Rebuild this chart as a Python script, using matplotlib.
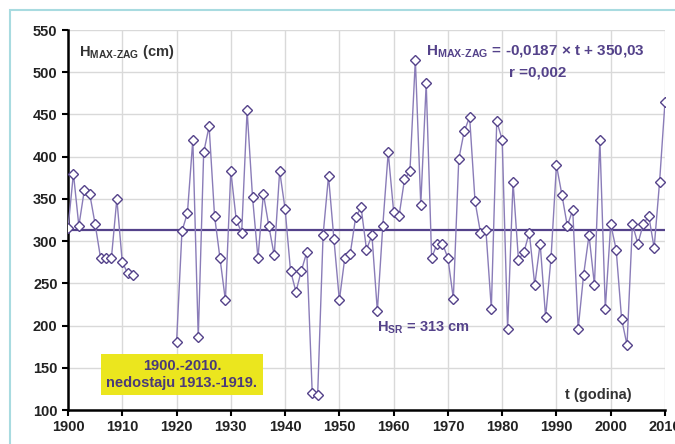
import matplotlib
matplotlib.use("Agg")
import matplotlib.pyplot as plt
import numpy as np
from matplotlib.patches import Rectangle

plt.rcParams['font.family'] = ['Liberation Sans', 'DejaVu Sans']

# godine 1900-1912 i 1920-2010 (nedostaju 1913-1919)
years = list(range(1900, 2011))
h_early = [315, 380, 318, 360, 356, 320, 280, 280, 280, 350, 275, 262, 260]
h_gap = [np.nan] * 7
h_late = [180, 312, 333, 420, 186, 405, 436, 330, 280, 230,
          383, 325, 310, 455, 352, 280, 356, 318, 283, 383,
          338, 265, 240, 265, 287, 120, 118, 307, 377, 302,
          230, 280, 285, 328, 340, 290, 307, 217, 318, 405,
          335, 330, 373, 383, 515, 343, 487, 280, 297, 297,
          280, 232, 397, 430, 447, 347, 310, 313, 220, 442,
          420, 196, 370, 278, 287, 310, 248, 297, 210, 280,
          390, 355, 318, 337, 196, 260, 307, 248, 420, 220,
          320, 290, 208, 177, 320, 297, 320, 330, 292, 370,
          465]
h_max = h_early + h_gap + h_late
h_sr = 313

purple = '#54428a'
fig = plt.figure(figsize=(6.75, 4.44), dpi=100)
fig.patches.append(Rectangle((10 / 675, -0.1), 1.2, (444 - 10) / 444 + 0.1,
                             transform=fig.transFigure, fill=False,
                             edgecolor='#a8dbe0', lw=1.5))
ax = fig.add_axes([68 / 675, 34 / 444, 597 / 675, 380 / 444])

ax.plot(years, h_max, color='#8a7cb8', lw=1.0, marker='D', ms=5.5,
        mfc='white', mec=purple, mew=1.0, zorder=3)
ax.plot([1900, 2010], [h_sr, h_sr], color=purple, lw=1.6, zorder=2)

ax.set_xlim(1900, 2010)
ax.set_ylim(100, 550)
ax.set_xticks(range(1900, 2011, 10))
ax.set_yticks(range(100, 551, 50))
ax.grid(True, color='#d9d9d9', lw=1.0)
ax.set_axisbelow(True)
for s in ['top', 'right']:
    ax.spines[s].set_visible(False)
for s in ['left', 'bottom']:
    ax.spines[s].set_linewidth(1.8)
ax.tick_params(direction='out', length=4, width=1.5, labelsize=10.5)
for lab in ax.get_xticklabels() + ax.get_yticklabels():
    lab.set_fontweight('bold')
    lab.set_color('#222222')

ax.text(1902, 524, r'H$_{\mathregular{MAX\text{-}ZAG}}$ (cm)', fontsize=10.5,
        fontweight='bold', color='#333333', va='center')
ax.text(2006.3, 524, r'H$_{\mathregular{MAX\text{-}ZAG}}$ = -0,0187 × t + 350,03',
        fontsize=11, fontweight='bold', color=purple, ha='right', va='center')
ax.text(1986.5, 500, 'r =0,002', fontsize=11, fontweight='bold',
        color=purple, ha='center', va='center')
ax.text(1957, 198, r'H$_{\mathregular{SR}}$ = 313 cm', fontsize=10.5,
        fontweight='bold', color=purple, va='center')
ax.text(2003.8, 118, 't (godina)', fontsize=10.5, fontweight='bold',
        color='#333333', ha='right', va='center')
ax.text(1921, 142, '1900.-2010.\nnedostaju 1913.-1919.', fontsize=10.5,
        fontweight='bold', color='#4a3a7a', ha='center', va='center',
        linespacing=1.2,
        bbox=dict(boxstyle='square,pad=0.35', fc='#ebe61e', ec='none'))

fig.savefig('out.png', dpi=100)
